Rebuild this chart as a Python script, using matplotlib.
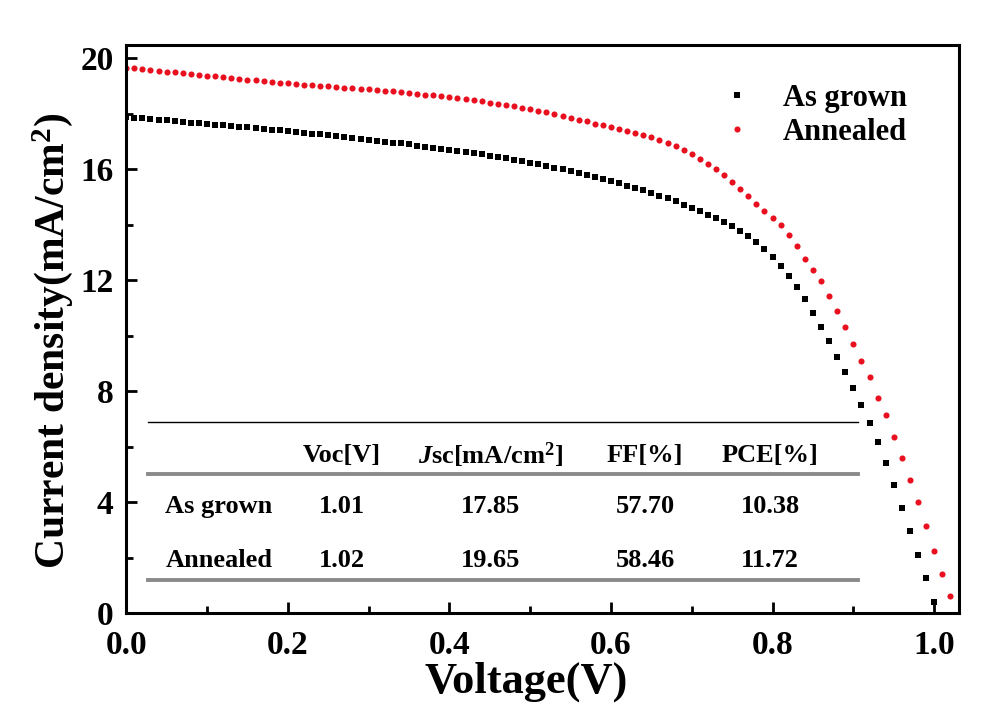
import numpy as np
import matplotlib
matplotlib.use("Agg")
import matplotlib.pyplot as plt

# J-V data (V in volts, J in mA/cm2)
v_grown = [0.00, 0.01, 0.02, 0.03, 0.04, 0.05, 0.06, 0.07, 0.08, 0.09,
           0.10, 0.11, 0.12, 0.13, 0.14, 0.15, 0.16, 0.17, 0.18, 0.19,
           0.20, 0.21, 0.22, 0.23, 0.24, 0.25, 0.26, 0.27, 0.28, 0.29,
           0.30, 0.31, 0.32, 0.33, 0.34, 0.35, 0.36, 0.37, 0.38, 0.39,
           0.40, 0.41, 0.42, 0.43, 0.44, 0.45, 0.46, 0.47, 0.48, 0.49,
           0.50, 0.51, 0.52, 0.53, 0.54, 0.55, 0.56, 0.57, 0.58, 0.59,
           0.60, 0.61, 0.62, 0.63, 0.64, 0.65, 0.66, 0.67, 0.68, 0.69,
           0.70, 0.71, 0.72, 0.73, 0.74, 0.75, 0.76, 0.77, 0.78, 0.79,
           0.80, 0.81, 0.82, 0.83, 0.84, 0.85, 0.86, 0.87, 0.88, 0.89,
           0.90, 0.91, 0.92, 0.93, 0.94, 0.95, 0.96, 0.97, 0.98, 0.99,
           1.00]
j_grown = [17.88, 17.86, 17.83, 17.81, 17.78, 17.76, 17.73, 17.71, 17.68, 17.66,
           17.63, 17.61, 17.58, 17.56, 17.53, 17.51, 17.48, 17.46, 17.43, 17.40,
           17.37, 17.34, 17.31, 17.28, 17.25, 17.22, 17.19, 17.16, 17.12, 17.09,
           17.05, 17.02, 16.99, 16.96, 16.93, 16.89, 16.85, 16.81, 16.77, 16.73,
           16.69, 16.65, 16.61, 16.57, 16.53, 16.48, 16.44, 16.39, 16.34, 16.28,
           16.23, 16.18, 16.12, 16.06, 16.00, 15.94, 15.87, 15.80, 15.73, 15.65,
           15.57, 15.49, 15.41, 15.33, 15.24, 15.15, 15.05, 14.95, 14.84, 14.72,
           14.60, 14.48, 14.36, 14.23, 14.09, 13.94, 13.78, 13.58, 13.36, 13.11,
           12.83, 12.51, 12.16, 11.77, 11.32, 10.83, 10.32, 9.79, 9.24, 8.68,
           8.10, 7.50, 6.86, 6.16, 5.40, 4.60, 3.78, 2.95, 2.10, 1.25,
           0.40]

v_annealed = v_grown + [1.01, 1.02]
j_annealed = [19.66, 19.63, 19.60, 19.57, 19.54, 19.51, 19.49, 19.46, 19.43, 19.40,
              19.37, 19.35, 19.32, 19.29, 19.26, 19.23, 19.20, 19.17, 19.14, 19.12,
              19.10, 19.07, 19.05, 19.03, 19.01, 18.99, 18.96, 18.94, 18.92, 18.90,
              18.88, 18.85, 18.83, 18.81, 18.78, 18.75, 18.72, 18.69, 18.66, 18.62,
              18.59, 18.55, 18.52, 18.48, 18.44, 18.40, 18.35, 18.31, 18.26, 18.21,
              18.16, 18.11, 18.05, 17.99, 17.93, 17.86, 17.79, 17.72, 17.64, 17.58,
              17.52, 17.46, 17.39, 17.32, 17.24, 17.15, 17.05, 16.94, 16.82, 16.68,
              16.54, 16.38, 16.20, 16.00, 15.78, 15.54, 15.28, 15.02, 14.76, 14.50,
              14.24, 13.97, 13.64, 13.22, 12.78, 12.37, 11.96, 11.42, 10.88, 10.32,
              9.70, 9.09, 8.50, 7.76, 7.13, 6.35, 5.58, 4.80, 4.00, 3.15,
              2.25, 1.40, 0.60]

# summary table
row_names = ["As grown", "Annealed"]
col_names = ["Voc[V]", r"$\mathit{J}$sc[mA/cm$^{2}$]", "FF[%]", "PCE[%]"]
voc = ["1.01", "1.02"]
jsc = ["17.85", "19.65"]
ff = ["57.70", "58.46"]
pce = ["10.38", "11.72"]

plt.rcParams["font.family"] = "Liberation Serif"
plt.rcParams["font.weight"] = "bold"
plt.rcParams["axes.labelweight"] = "bold"
plt.rcParams["mathtext.fontset"] = "custom"
plt.rcParams["mathtext.rm"] = "Liberation Serif:bold"
plt.rcParams["mathtext.bf"] = "Liberation Serif:bold"
plt.rcParams["mathtext.it"] = "Liberation Serif:italic:bold"

fig = plt.figure(figsize=(9.94, 7.17), dpi=100)
ax = fig.add_axes([0.127, 0.145, 0.838, 0.792])

ax.plot(v_grown, j_grown, "s", color="black", markersize=4.2, markeredgewidth=0,
        label="As grown")
ax.plot(v_annealed, j_annealed, "o", color="#e8101e", markersize=4.4,
        markeredgewidth=0, label="Annealed")

ax.set_xlim(0, 1.031)
ax.set_ylim(0, 20.47)
ax.set_xticks([0.0, 0.2, 0.4, 0.6, 0.8, 1.0])
ax.set_xticks([0.1, 0.3, 0.5, 0.7, 0.9], minor=True)
ax.set_yticks([0, 4, 8, 12, 16, 20])
ax.set_yticks([2, 6, 10, 14, 18], minor=True)
ax.xaxis.set_major_formatter(plt.FormatStrFormatter("%.1f"))
ax.tick_params(which="both", direction="in", width=2, labelsize=24)
ax.tick_params(which="major", length=8)
ax.tick_params(axis="x", which="major", pad=12)
ax.tick_params(axis="y", which="major", pad=9)
ax.tick_params(which="minor", length=5)
for s in ax.spines.values():
    s.set_linewidth(2.2)

ax.set_xlabel("Voltage(V)", fontsize=32, fontweight="bold")
ax.xaxis.set_label_coords(0.48, -0.085)
ax.set_ylabel(r"Current density(mA/cm$^{2}$)", fontsize=30, fontweight="bold")
ax.yaxis.set_label_coords(-0.062, 0.48)

leg = ax.legend(loc="upper right", bbox_to_anchor=(0.97, 0.98), frameon=False,
                markerscale=1.0, handlelength=0.6,
                handletextpad=1.2, labelspacing=0.15,
                prop={"family": "Liberation Serif", "weight": "bold", "size": 22})

# table drawn inside the axes
tr = ax.transAxes
ax.plot([0.026, 0.879], [0.336, 0.336], color="black", lw=1.0, transform=tr)
ax.plot([0.026, 0.879], [0.245, 0.245], color="#8a8a8a", lw=2.8, transform=tr)
ax.plot([0.026, 0.879], [0.058, 0.058], color="#8a8a8a", lw=2.8, transform=tr)

col_x = [0.259, 0.437, 0.623, 0.773]
fs = 19
for x, name in zip(col_x, col_names):
    ax.text(x, 0.278, name, transform=tr, ha="center", va="center", fontsize=fs)
for y, name, a, b, c, d in zip([0.187, 0.093], row_names, voc, jsc, ff, pce):
    ax.text(0.047, y, name, transform=tr, ha="left", va="center", fontsize=fs)
    for x, val in zip(col_x, [a, b, c, d]):
        ax.text(x, y, val, transform=tr, ha="center", va="center", fontsize=fs)

fig.savefig("out.png", dpi=100)
